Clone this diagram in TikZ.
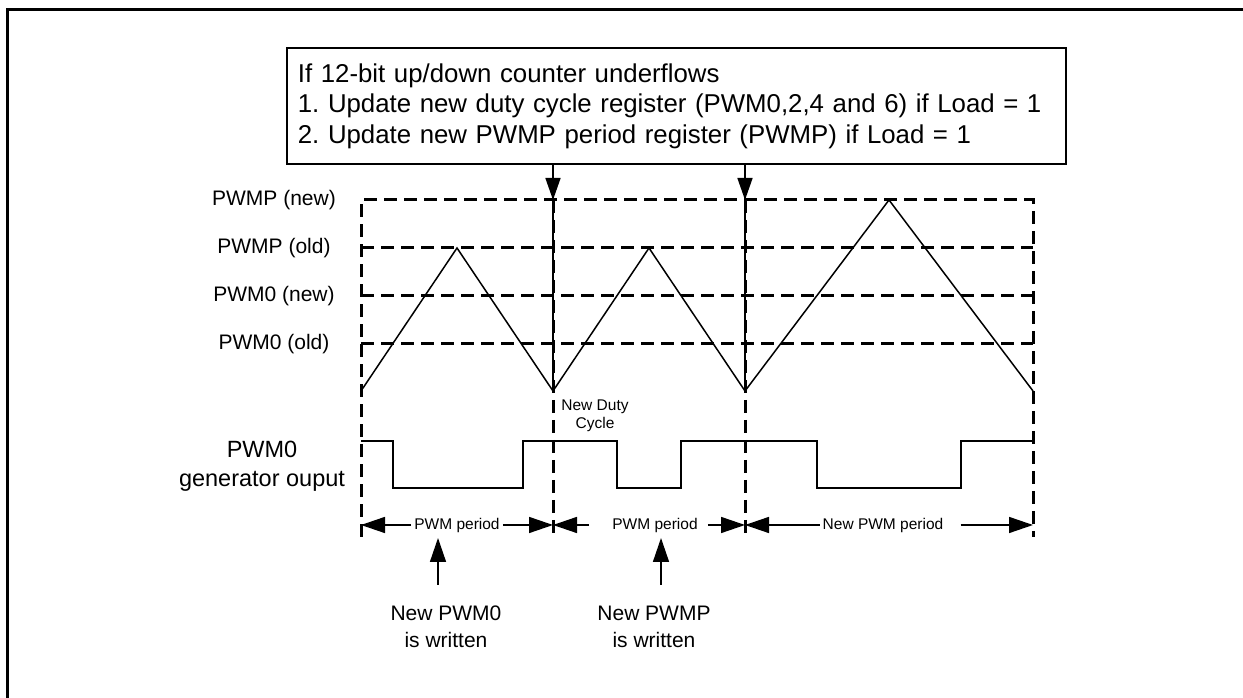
\documentclass[tikz,border=0pt]{standalone}
\usepackage{fontspec}
\setmainfont{Liberation Sans}
\usetikzlibrary{arrows.meta}

\begin{document}
\begin{tikzpicture}[x=1pt, y=1pt,
  lab/.style={font=\fontsize{21}{27}\selectfont, align=center, inner sep=2pt},
  smalllab/.style={font=\fontsize{15.5}{18}\selectfont, align=center, inner sep=3pt},
  dashline/.style={line width=3pt, dash pattern=on 13pt off 7pt},
  wave/.style={line width=1.5pt},
  tip/.style={-{Triangle[length=22pt,width=15pt]}, line width=1.5pt},
  dimtip/.style={-{Triangle[length=24pt,width=16pt]}, line width=1.5pt}]
\useasboundingbox (0,0) rectangle (1243,698);
% frame (top and left only)
\draw[line width=3pt] (7,0) -- (7,688) -- (1243,688);
% update condition box
\node[draw, line width=1.8pt, anchor=north west, minimum width=779pt, minimum height=116pt,
  text width=757pt, align=left, inner xsep=11pt, font=\fontsize{25.8}{30.5}\selectfont\frenchspacing] (update) at (286,651)
  {If 12-bit up/down counter underflows\\
   1. Update new duty cycle register (PWM0,2,4 and 6) if Load = 1\\
   2. Update new PWMP period register (PWMP) if Load = 1};
% period boundaries
\coordinate (v0) at (361,498); \coordinate (v1) at (553,498);
\coordinate (v2) at (745,498); \coordinate (v3) at (1033,498);
\coordinate (bot) at (0,307);
% level lines
\draw[dashline] (361,161) -- (v0) -- (v3) -- (1033,161);
\foreach \y in {450,402,354} {\draw[dashline] (361,\y) -- (1033,\y);}
\foreach \v in {v1,v2} {\draw[dashline] (\v) -- (\v |- 0,161);}
% level labels
\node[lab] (pnew) at (274,498) {PWMP (new)};
\node[lab] (pold) at (274,450) {PWMP (old)};
\node[lab] (dnew) at (274,402) {PWM0 (new)};
\node[lab] (dold) at (274,354) {PWM0 (old)};
% update arrows from the box
\foreach \v in {v1,v2} {
  \draw[tip] (update.south -| \v) -- (\v);
  \draw[wave] (\v) -- (\v |- bot);
}
% up/down counter
\draw[wave] (361,307) -- (457,450) -- (553,307) -- (649,450) -- (745,307) -- (889,498) -- (1033,307);
\node[smalllab] (duty) at (595,282) {New Duty\\Cycle};
% generator output
\node[lab, font=\fontsize{23.5}{29}\selectfont] (outlab) at (262,232) {PWM0\\generator ouput};
\draw[wave] (361,257) -- (393,257) -- (393,210) -- (523,210) -- (523,257) -- (617,257) -- (617,210)
  -- (681,210) -- (681,257) -- (817,257) -- (817,210) -- (961,210) -- (961,257) -- (1033,257);
% periods
\node[smalllab] (per1) at (457,173) {PWM period};
\node[smalllab] (per2) at (655,173) {PWM period};
\node[smalllab] (per3) at (883,173) {New PWM period};
\draw[dimtip] (per1.west) -- (per1.west -| v0);
\draw[dimtip] (per1.east) -- (per1.east -| v1);
\draw[dimtip, shorten <=20pt] (per2.west) -- (per2.west -| v1);
\draw[dimtip, shorten <=7pt] (per2.east) -- (per2.east -| v2);
\draw[dimtip] (per3.west) -- (per3.west -| v2);
\draw[dimtip, shorten <=14pt] (per3.east) -- (per3.east -| v3);
% register writes
\node[lab] (wr0) at (446,71) {New PWM0\\is written};
\node[lab] (wrp) at (654,71) {New PWMP\\is written};
\coordinate (w0) at (438,113); \coordinate (p0) at (438,160);
\coordinate (w1) at (661,113); \coordinate (p1) at (661,160);
\draw[dimtip] (w0) -- (p0);
\draw[dimtip] (w1) -- (p1);
\end{tikzpicture}
\end{document}
